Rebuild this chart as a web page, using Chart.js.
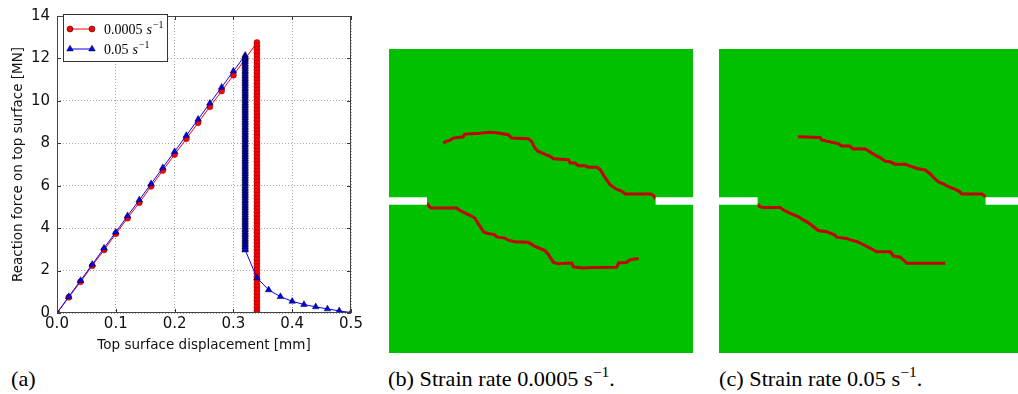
<!DOCTYPE html>
<html>
<head>
<meta charset="utf-8">
<script src="https://cdn.jsdelivr.net/npm/chart.js@4.4.1/dist/chart.umd.min.js"></script>
<style>
  html, body { margin: 0; padding: 0; background: #fff; }
  #page { position: relative; width: 1018px; height: 394px; overflow: hidden; background: #fff; }
  #page canvas { position: absolute; display: block; }
  .cap { position: absolute; top: 369px; font-family: "Liberation Serif", "Times New Roman", serif;
         font-size: 21px; line-height: 21px; color: #000; white-space: nowrap;
         transform: scaleX(1.06); transform-origin: 0 0; }
  .cap sup { font-size: 70%; vertical-align: 0.6em; line-height: 0; }
</style>
</head>
<body>
<div id="page">
  <canvas id="curve" width="370" height="360" style="left:0;top:0;width:370px;height:360px"></canvas>
  <canvas id="slowField" width="304" height="304" style="left:389px;top:49px;width:304px;height:304px"></canvas>
  <canvas id="fastField" width="304" height="304" style="left:719px;top:49px;width:304px;height:304px"></canvas>
  <div class="cap" style="left:11px">(a)</div>
  <div class="cap" style="left:388px">(b) Strain rate 0.0005 s<sup>−1</sup>.</div>
  <div class="cap" style="left:719px">(c) Strain rate 0.05 s<sup>−1</sup>.</div>
</div>
<script>
// ---- force / displacement curves ----
const xTickValues = [0.0, 0.1, 0.2, 0.3, 0.4, 0.5];
const yTickValues = [0, 2, 4, 6, 8, 10, 12, 14];

// 0.0005 1/s: loading branch
const slowRiseDisp  = [0.00, 0.02, 0.04, 0.06, 0.08, 0.10, 0.12, 0.14, 0.16, 0.18, 0.20, 0.22, 0.24, 0.26, 0.28, 0.30, 0.32, 0.34];
const slowRiseForce = [0.00, 0.74, 1.47, 2.23, 2.97, 3.73, 4.47, 5.20, 5.97, 6.72, 7.47, 8.21, 8.97, 9.72, 10.46, 11.21, 11.97, 12.75];
// 0.0005 1/s: sudden drop at peak displacement
const slowDropDisp  = 0.34;
const slowDropForce = [12.59, 12.43, 12.27, 12.11, 11.95, 11.79, 11.63, 11.47, 11.31, 11.15, 10.99, 10.83, 10.67, 10.51, 10.35, 10.19,
  10.03, 9.87, 9.71, 9.55, 9.39, 9.23, 9.07, 8.91, 8.75, 8.59, 8.43, 8.27, 8.11, 7.95, 7.79, 7.63, 7.47, 7.31, 7.15, 6.99,
  6.83, 6.67, 6.51, 6.35, 6.19, 6.03, 5.87, 5.71, 5.55, 5.39, 5.23, 5.07, 4.91, 4.75, 4.59, 4.43, 4.27, 4.11, 3.95, 3.79,
  3.63, 3.47, 3.31, 3.15, 2.99, 2.83, 2.67, 2.51, 2.35, 2.19, 2.03, 1.87, 1.71, 1.55, 1.39, 1.23, 1.07, 0.91, 0.75, 0.59,
  0.43, 0.27, 0.11, 0.00];

// 0.05 1/s: loading branch
const fastRiseDisp  = [0.00, 0.02, 0.04, 0.06, 0.08, 0.10, 0.12, 0.14, 0.16, 0.18, 0.20, 0.22, 0.24, 0.26, 0.28, 0.30, 0.32];
const fastRiseForce = [0.00, 0.77, 1.53, 2.29, 3.06, 3.81, 4.58, 5.33, 6.09, 6.85, 7.61, 8.37, 9.13, 9.89, 10.64, 11.40, 12.15];
// 0.05 1/s: drop at peak displacement
const fastDropDisp  = 0.32;
const fastDropForce = [12.07, 11.99, 11.91, 11.83, 11.75, 11.67, 11.59, 11.51, 11.43, 11.35, 11.27, 11.19, 11.11, 11.03, 10.95,
  10.87, 10.79, 10.71, 10.63, 10.55, 10.47, 10.39, 10.31, 10.23, 10.15, 10.07, 9.99, 9.91, 9.83, 9.75, 9.67, 9.59, 9.51,
  9.43, 9.35, 9.27, 9.19, 9.11, 9.03, 8.95, 8.87, 8.79, 8.71, 8.63, 8.55, 8.47, 8.39, 8.31, 8.23, 8.15, 8.07, 7.99, 7.91,
  7.83, 7.75, 7.67, 7.59, 7.51, 7.43, 7.35, 7.27, 7.19, 7.11, 7.03, 6.95, 6.87, 6.79, 6.71, 6.63, 6.55, 6.47, 6.39, 6.31,
  6.23, 6.15, 6.07, 5.99, 5.91, 5.83, 5.75, 5.67, 5.59, 5.51, 5.43, 5.35, 5.27, 5.19, 5.11, 5.03, 4.95, 4.87, 4.79, 4.71,
  4.63, 4.55, 4.47, 4.39, 4.31, 4.23, 4.15, 4.07, 3.99, 3.91, 3.83, 3.75, 3.67, 3.59, 3.51, 3.43, 3.35, 3.27, 3.19, 3.11,
  3.03, 2.97];
// 0.05 1/s: softening tail
const fastTailDisp  = [0.34, 0.36, 0.38, 0.40, 0.42, 0.44, 0.46, 0.48, 0.50];
const fastTailForce = [1.66, 1.09, 0.77, 0.55, 0.40, 0.29, 0.19, 0.10, 0.02];

const slowColor = '#ff0000';
const fastColor = '#0000ff';

const slowPoints = slowRiseDisp.map((x, i) => ({ x, y: slowRiseForce[i] }))
  .concat(slowDropForce.map(y => ({ x: slowDropDisp, y })));
const fastPoints = fastRiseDisp.map((x, i) => ({ x, y: fastRiseForce[i] }))
  .concat(fastDropForce.map(y => ({ x: fastDropDisp, y })))
  .concat(fastTailDisp.map((x, i) => ({ x, y: fastTailForce[i] })));

function trianglePath(ctx, x, y, r) {
  ctx.beginPath();
  ctx.moveTo(x, y - r);
  ctx.lineTo(x + r * Math.sin(2 * Math.PI / 3), y - r * Math.cos(2 * Math.PI / 3));
  ctx.lineTo(x + r * Math.sin(4 * Math.PI / 3), y - r * Math.cos(4 * Math.PI / 3));
  ctx.closePath();
}

// axes box with inward tick marks
const frame = {
  id: 'frame',
  afterDatasetsDraw(chart) {
    const { ctx, chartArea: a, scales } = chart;
    ctx.save();
    ctx.strokeStyle = '#333';
    ctx.lineWidth = 1;
    ctx.beginPath();
    xTickValues.forEach(v => {
      const px = Math.round(scales.x.getPixelForValue(v)) + 0.5;
      ctx.moveTo(px, a.bottom); ctx.lineTo(px, a.bottom - 4);
      ctx.moveTo(px, a.top); ctx.lineTo(px, a.top + 4);
    });
    yTickValues.forEach(v => {
      const py = Math.round(scales.y.getPixelForValue(v)) + 0.5;
      ctx.moveTo(a.left, py); ctx.lineTo(a.left + 4, py);
      ctx.moveTo(a.right, py); ctx.lineTo(a.right - 4, py);
    });
    ctx.stroke();
    ctx.strokeStyle = '#444';
    ctx.strokeRect(Math.round(a.left) + 0.5, Math.round(a.top) + 0.5,
                   Math.round(a.right - a.left) - 1, Math.round(a.bottom - a.top) - 1);
    ctx.restore();
  }
};

// legend with two markers per entry and a math-style unit
const rateLegend = {
  id: 'rateLegend',
  afterDraw(chart) {
    const ctx = chart.ctx;
    ctx.save();
    ctx.fillStyle = '#fff';
    ctx.fillRect(63.5, 14.5, 104, 47);
    ctx.strokeStyle = '#333';
    ctx.lineWidth = 1;
    ctx.strokeRect(63.5, 14.5, 104, 47);
    const entries = [
      { y: 29, color: slowColor, marker: 'circle', value: '0.0005' },
      { y: 49, color: fastColor, marker: 'triangle', value: '0.05' }
    ];
    entries.forEach(e => {
      ctx.strokeStyle = e.color;
      ctx.lineWidth = 1;
      ctx.beginPath(); ctx.moveTo(70, e.y); ctx.lineTo(92, e.y); ctx.stroke();
      [70, 92].forEach(mx => {
        if (e.marker === 'circle') { ctx.beginPath(); ctx.arc(mx, e.y, 3, 0, Math.PI * 2); }
        else { trianglePath(ctx, mx, e.y, 3.8); }
        ctx.fillStyle = e.color; ctx.fill();
        ctx.strokeStyle = '#000'; ctx.lineWidth = 0.5; ctx.stroke();
      });
      ctx.fillStyle = '#000';
      ctx.textBaseline = 'alphabetic';
      ctx.font = '14px "Liberation Serif", serif';
      const base = e.y + 4.5;
      ctx.fillText(e.value, 104, base);
      let x = 104 + ctx.measureText(e.value).width + 4;
      ctx.font = 'italic 14px "Liberation Serif", serif';
      ctx.fillText('s', x, base);
      x += ctx.measureText('s').width + 1;
      ctx.font = '10px "Liberation Serif", serif';
      ctx.fillText('−1', x, base - 6);
    });
    ctx.restore();
  }
};

new Chart(document.getElementById('curve'), {
  type: 'line',
  data: {
    datasets: [
      {
        label: '0.05 s^-1', data: fastPoints, order: 1,
        borderColor: fastColor, borderWidth: 1, backgroundColor: fastColor,
        pointStyle: 'triangle', pointRadius: 3.8, pointBackgroundColor: fastColor,
        pointBorderColor: '#000', pointBorderWidth: 0.5, tension: 0
      },
      {
        label: '0.0005 s^-1', data: slowPoints, order: 2,
        borderColor: slowColor, borderWidth: 1, backgroundColor: slowColor,
        pointStyle: 'circle', pointRadius: 3, pointBackgroundColor: slowColor,
        pointBorderColor: '#7a0000', pointBorderWidth: 0.5, tension: 0
      }
    ]
  },
  options: {
    responsive: false,
    animation: false,
    events: [],
    layout: { padding: { left: 0, right: 19, top: 13, bottom: 6 } },
    plugins: { legend: { display: false }, tooltip: { enabled: false } },
    scales: {
      x: {
        type: 'linear', min: 0, max: 0.5,
        afterBuildTicks: s => { s.ticks = xTickValues.map(v => ({ value: v })); },
        afterFit: s => { s.height = 41; },
        ticks: { font: { family: 'DejaVu Sans', size: 15 }, color: '#111', padding: 2,
                 maxRotation: 0, autoSkip: false, callback: v => Number(v).toFixed(1) },
        grid: { color: '#a8a8a8', lineWidth: 1, drawTicks: false },
        border: { display: false, dash: [1, 2] },
        title: { display: true, text: 'Top surface displacement [mm]', color: '#111',
                 font: { family: 'DejaVu Sans', size: 13.5 }, padding: { top: 0, bottom: 0 } }
      },
      y: {
        type: 'linear', min: 0, max: 14,
        afterBuildTicks: s => { s.ticks = yTickValues.map(v => ({ value: v })); },
        afterFit: s => { s.width = 57; },
        ticks: { font: { family: 'DejaVu Sans', size: 15 }, color: '#111', padding: 7,
                 autoSkip: false, callback: v => String(v) },
        grid: { color: '#a8a8a8', lineWidth: 1, drawTicks: false },
        border: { display: false, dash: [1, 2] },
        title: { display: true, text: 'Reaction force on top surface [MN]', color: '#111',
                 font: { family: 'DejaVu Sans', size: 13.5 }, padding: { top: 10, bottom: 0 } }
      }
    }
  },
  plugins: [frame, rateLegend]
});

// ---- crack paths in the notched specimen (x, y in % of width / height from top) ----
const notchY = 50;
const slowNotchLeftX  = [0, 12.5];
const slowNotchRightX = [87.7, 100];
const slowUpperCrackX = [87.7, 87.0, 86.2, 77.7, 76.6, 74.4, 72.7, 70.8, 69.5, 68.4, 65.6, 64.5, 62.3, 61.2, 59.6, 59.0, 54.1,
  53.0, 50.8, 49.1, 48.0, 46.9, 45.8, 40.3, 39.2, 35.9, 33.2, 29.9, 24.9, 24.4, 21.1, 20.2, 18.4, 18.0];
const slowUpperCrackY = [49.3, 48.2, 47.7, 47.7, 46.8, 45.9, 44.6, 41.9, 39.7, 38.9, 38.9, 38.4, 38.4, 37.5, 37.5, 36.4, 36.1,
  35.3, 34.4, 33.7, 32.6, 30.4, 29.5, 29.3, 28.2, 27.6, 27.4, 27.7, 28.0, 28.9, 29.3, 30.0, 30.5, 31.1];
const slowLowerCrackX = [12.5, 13.2, 13.9, 22.2, 23.3, 24.9, 26.6, 28.2, 29.9, 31.2, 32.6, 34.8, 35.4, 38.1, 39.2, 41.4, 45.8,
  48.0, 51.3, 52.4, 54.1, 55.7, 60.1, 60.7, 63.9, 67.2, 74.9, 75.5, 78.2, 79.3, 82.1];
const slowLowerCrackY = [50.7, 51.8, 52.3, 52.3, 53.1, 53.9, 54.7, 55.6, 58.3, 60.3, 60.7, 61.1, 61.8, 62.2, 62.9, 63.4, 63.6,
  64.9, 66.3, 67.6, 70.2, 70.6, 70.4, 71.7, 72.0, 71.9, 71.8, 70.4, 70.2, 69.3, 68.9];

const fastNotchLeftX  = [0, 12.7];
const fastNotchRightX = [87.7, 100];
const fastUpperCrackX = [87.7, 86.5, 79.9, 79.1, 77.7, 75.5, 73.8, 72.2, 70.5, 69.5, 67.8, 65.1, 62.9, 61.2, 57.9, 56.3, 54.6,
  53.0, 51.3, 49.1, 48.0, 44.2, 42.9, 40.3, 39.2, 35.4, 33.7, 33.2, 26.0];
const fastUpperCrackY = [48.6, 47.7, 47.7, 46.9, 46.2, 45.3, 44.4, 43.7, 42.2, 41.1, 39.8, 39.3, 38.5, 37.9, 37.9, 37.1, 36.9,
  35.7, 34.9, 33.5, 32.8, 32.9, 31.9, 31.9, 31.1, 30.3, 29.8, 29.1, 28.9];
const fastLowerCrackX = [12.9, 13.4, 14.5, 20.0, 21.6, 23.3, 26.0, 27.7, 29.3, 31.0, 32.6, 35.4, 38.1, 38.7, 42.0, 43.1, 45.3,
  47.5, 49.7, 51.9, 56.3, 57.4, 59.6, 61.2, 61.8, 74.4];
const fastLowerCrackY = [51.0, 51.9, 52.1, 52.1, 53.2, 54.0, 55.1, 56.2, 57.1, 58.4, 59.7, 60.1, 61.2, 61.9, 62.3, 62.8, 63.3,
  64.4, 65.5, 66.7, 66.7, 68.1, 68.5, 69.9, 70.5, 70.5];

const specimenGreen = '#00c000';
const crackRed = '#c40000';

const specimenFill = {
  id: 'specimenFill',
  beforeDatasetsDraw(chart) {
    const { ctx, chartArea: a } = chart;
    ctx.save();
    ctx.fillStyle = specimenGreen;
    ctx.fillRect(a.left, a.top, a.right - a.left, a.bottom - a.top);
    ctx.restore();
  }
};

function pts(xs, ys) { return xs.map((x, i) => ({ x, y: ys[i] })); }

function specimen(id, notchL, notchR, upX, upY, loX, loY) {
  const notch = xs => ({ data: xs.map(x => ({ x, y: notchY })), borderColor: '#fff', borderWidth: 7.4,
                         borderCapStyle: 'butt', pointRadius: 0, tension: 0 });
  const crack = (xs, ys) => ({ data: pts(xs, ys), borderColor: crackRed, borderWidth: 3,
                               borderJoinStyle: 'miter', borderCapStyle: 'butt', pointRadius: 0, tension: 0 });
  new Chart(document.getElementById(id), {
    type: 'line',
    data: { datasets: [notch(notchL), notch(notchR), crack(upX, upY), crack(loX, loY)] },
    options: {
      responsive: false, animation: false, events: [],
      layout: { padding: 0 },
      plugins: { legend: { display: false }, tooltip: { enabled: false } },
      scales: {
        x: { type: 'linear', min: 0, max: 100, display: false },
        y: { type: 'linear', min: 0, max: 100, reverse: true, display: false }
      }
    },
    plugins: [specimenFill]
  });
}

specimen('slowField', slowNotchLeftX, slowNotchRightX, slowUpperCrackX, slowUpperCrackY, slowLowerCrackX, slowLowerCrackY);
specimen('fastField', fastNotchLeftX, fastNotchRightX, fastUpperCrackX, fastUpperCrackY, fastLowerCrackX, fastLowerCrackY);
</script>
</body>
</html>
